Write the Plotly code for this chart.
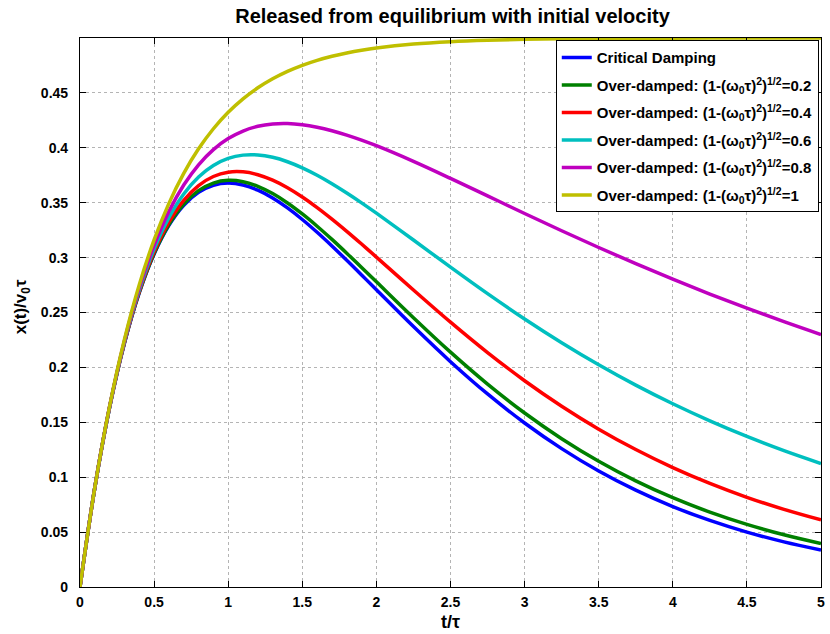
import plotly.graph_objects as go

# time axis (t / tau)
t_vals = [0, 0.1, 0.2, 0.3, 0.4, 0.5, 0.6, 0.7, 0.8, 0.9, 1.0,
          1.1, 1.2, 1.3, 1.4, 1.5, 1.6, 1.7, 1.8, 1.9, 2.0,
          2.25, 2.5, 2.75, 3.0, 3.25, 3.5, 3.75, 4.0, 4.25, 4.5, 4.75, 5.0]

critical = [0, 0.090484, 0.163746, 0.222245, 0.268128, 0.303265, 0.329287, 0.347610, 0.359463, 0.365913, 0.367879,
            0.366158, 0.361433, 0.354292, 0.345236, 0.334695, 0.323035, 0.310563, 0.297538, 0.284181, 0.270671,
            0.237148, 0.205212, 0.175802, 0.149361, 0.126016, 0.105691, 0.088193, 0.073263, 0.060622, 0.049991, 0.041097, 0.033690]

over_02 = [0, 0.090490, 0.163790, 0.222378, 0.268414, 0.303771, 0.330078, 0.348747, 0.360999, 0.367892, 0.370336,
           0.369119, 0.364913, 0.358297, 0.349765, 0.339738, 0.328576, 0.316581, 0.304007, 0.291070, 0.277947,
           0.245233, 0.213870, 0.184800, 0.158485, 0.135080, 0.114535, 0.096695, 0.081330, 0.068190, 0.057018, 0.047563, 0.039593]

over_04 = [0, 0.090508, 0.163921, 0.222779, 0.269274, 0.305291, 0.332457, 0.352170, 0.365629, 0.373868, 0.377768,
           0.378088, 0.375473, 0.370476, 0.363565, 0.355141, 0.345544, 0.335057, 0.323920, 0.312339, 0.300481,
           0.270485, 0.241166, 0.213463, 0.187879, 0.164634, 0.143761, 0.125189, 0.108775, 0.094345, 0.081713, 0.070688, 0.061094]

over_06 = [0, 0.090538, 0.164139, 0.223447, 0.270709, 0.307834, 0.336446, 0.357920, 0.373426, 0.383957, 0.390353,
           0.393326, 0.393480, 0.391326, 0.387293, 0.381745, 0.374990, 0.367286, 0.358848, 0.349860, 0.340473,
           0.316038, 0.291303, 0.267162, 0.244137, 0.222513, 0.202416, 0.183876, 0.166863, 0.151308, 0.137127, 0.124224, 0.112500]

over_08 = [0, 0.090581, 0.164446, 0.224385, 0.272728, 0.311417, 0.342078, 0.366065, 0.384510, 0.398357, 0.408394,
           0.415281, 0.419564, 0.421703, 0.422078, 0.421008, 0.418760, 0.415553, 0.411570, 0.406969, 0.401873,
           0.387629, 0.372139, 0.356167, 0.340184, 0.324479, 0.309218, 0.294498, 0.280364, 0.266837, 0.253916, 0.241592, 0.229848]

over_10 = [0, 0.090635, 0.164840, 0.225594, 0.275336, 0.316060, 0.349403, 0.376702, 0.399052, 0.417351, 0.432332,
           0.444598, 0.454641, 0.462863, 0.469595, 0.475106, 0.479619, 0.483314, 0.486338, 0.488815, 0.490842,
           0.494446, 0.496631, 0.497957, 0.498761, 0.499249, 0.499544, 0.499723, 0.499832, 0.499898, 0.499938, 0.499963, 0.499977]

series_names = [
    "Critical Damping",
    "Over-damped: (1-(ω<sub>0</sub>τ)<sup>2</sup>)<sup>1/2</sup>=0.2",
    "Over-damped: (1-(ω<sub>0</sub>τ)<sup>2</sup>)<sup>1/2</sup>=0.4",
    "Over-damped: (1-(ω<sub>0</sub>τ)<sup>2</sup>)<sup>1/2</sup>=0.6",
    "Over-damped: (1-(ω<sub>0</sub>τ)<sup>2</sup>)<sup>1/2</sup>=0.8",
    "Over-damped: (1-(ω<sub>0</sub>τ)<sup>2</sup>)<sup>1/2</sup>=1",
]
series_values = [critical, over_02, over_04, over_06, over_08, over_10]
series_colors = ["#0000FF", "#008000", "#FF0000", "#00BFBF", "#BF00BF", "#BFBF00"]

x_tickvals = [0, 0.5, 1, 1.5, 2, 2.5, 3, 3.5, 4, 4.5, 5]
x_ticktext = ["0", "0.5", "1", "1.5", "2", "2.5", "3", "3.5", "4", "4.5", "5"]
y_tickvals = [0, 0.05, 0.1, 0.15, 0.2, 0.25, 0.3, 0.35, 0.4, 0.45, 0.5]
y_ticktext = ["0", "0.05", "0.1", "0.15", "0.2", "0.25", "0.3", "0.35", "0.4", "0.45", ""]

FONT = "Liberation Sans, Arial, Helvetica, sans-serif"

fig = go.Figure()
for i, (name, vals, col) in enumerate(zip(series_names, series_values, series_colors)):
    fig.add_trace(go.Scatter(
        x=t_vals, y=vals, mode="lines", name=name, legendgroup="g%d" % i,
        line=dict(color=col, width=3.5, shape="spline"),
    ))

axis_common = dict(
    showline=True, linecolor="black", linewidth=1.2, mirror="ticks",
    ticks="inside", ticklen=6, tickcolor="black", tickwidth=1,
    showgrid=True, gridcolor="#b4b4b4", griddash="dot", gridwidth=1,
    zeroline=False,
    tickfont=dict(family=FONT, size=14, color="black", weight="bold"),
)

fig.update_layout(
    width=830, height=634,
    margin=dict(l=80, r=5, t=38, b=47),
    paper_bgcolor="white", plot_bgcolor="white",
    title=dict(text="Released from equilibrium with initial velocity",
               x=(80 + 825) / 2 / 830, xanchor="center", xref="container",
               y=1 - 16 / 634, yanchor="middle", yref="container",
               font=dict(family=FONT, size=20, color="black", weight="bold")),
    xaxis=dict(range=[0, 5], tickvals=x_tickvals, ticktext=x_ticktext,
               ticklabelstandoff=2, ticklabeloverflow="allow", **axis_common),
    yaxis=dict(range=[0, 0.5], tickvals=y_tickvals, ticktext=y_ticktext,
               ticklabelstandoff=8, **axis_common),
    legend=dict(x=0.997, xanchor="right", y=0.996, yanchor="top",
                bgcolor="white", bordercolor="black", borderwidth=1,
                font=dict(family=FONT, size=15, color="black", weight="bold"),
                tracegroupgap=5, itemwidth=30),
    showlegend=True,
    annotations=[
        dict(text="t/τ", xref="paper", yref="paper", x=0.5, y=-35 / 549,
             xanchor="center", yanchor="middle", showarrow=False,
             font=dict(family=FONT, size=18, color="black", weight="bold")),
        dict(text="x(t)/v<sub>0</sub>τ", xref="paper", yref="paper",
             x=-58 / 745, y=0.51, xanchor="center", yanchor="middle", textangle=-90,
             showarrow=False,
             font=dict(family=FONT, size=17, color="black", weight="bold")),
    ],
)

fig.write_html("out.html")
